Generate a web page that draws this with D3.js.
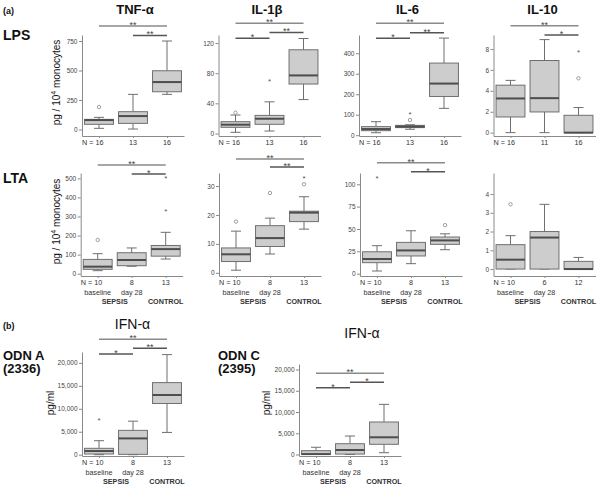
<!DOCTYPE html>
<html><head><meta charset="utf-8">
<script src="https://cdn.jsdelivr.net/npm/d3@7"></script>
<style>body{margin:0;background:#fff}svg{display:block;font-family:"Liberation Sans",Arial,sans-serif}</style>
</head><body>
<script>
// ---------- data: boxes are [whiskerLow, Q1, median, Q3, whiskerHigh] ----------
const groupIdx = [0, 1, 2];
const groupTop = ["", "", ""];
const subLabels = ["baseline", "day 28"];
const sepsisLabel = "SEPSIS", controlLabel = "CONTROL";

const tnfLPS = [[10,44,80,86,103],[4,52,114,151,298],[298,320,402,498,750]];
const tnfLPSOut = [[0,190,"o"]];
const tnfLPSN = [16,13,16];
const tnfLPSTicks = [0,250,500,750];
const tnfLPSSig = [[0,2,"**"],[1,2,"**"]];

const il1LPS = [[1.6,8.2,11.7,15.7,24.5],[3.3,12.2,19.6,24,42],[45,65.6,77,111,126]];
const il1LPSOut = [[0,27.6,"o"],[1,70.5,"*"]];
const il1LPSN = [16,13,16];
const il1LPSTicks = [0,40,80,120];
const il1LPSSig = [[0,2,"**"],[0,1,"*"],[1,2,"**"]];

const il6LPS = [[12,22,30,42,66],[29,37,42,48,51],[131,189,252,352,474]];
const il6LPSOut = [[1,74,"o"],[1,104,"*"]];
const il6LPSN = [16,13,16];
const il6LPSTicks = [0,100,200,300,400];
const il6LPSSig = [[0,2,"**"],[0,1,"*"],[1,2,"**"]];

const il10LPS = [[0,1.5,3.27,4.54,5.0],[0,1.98,3.3,6.9,8.9],[0,0,0,1.66,2.4]];
const il10LPSOut = [[2,5.2,"o"],[2,7.75,"*"]];
const il10LPSN = [16,11,16];
const il10LPSTicks = [0,2,4,6,8];
const il10LPSSig = [[0,2,"**"],[1,2,"*"]];

const tnfLTA = [[16,23,37,75,105],[39,42,72,110,135],[77,92,129,148,217]];
const tnfLTAOut = [[0,177,"o"],[2,332,"*"],[2,505,"*"]];
const tnfLTAN = [10,8,13];
const tnfLTATicks = [0,100,200,300,400,500];
const tnfLTASig = [[0,2,"**"],[1,2,"*"]];

const il1LTA = [[0.9,3.9,6.4,8.6,14.4],[6.5,9.1,12,16.3,18.9],[15.1,17.7,20.8,21.3,26.3]];
const il1LTAOut = [[0,17.7,"o"],[1,27.6,"o"],[2,30.6,"o"],[2,33,"*"]];
const il1LTAN = [10,8,13];
const il1LTATicks = [0,10,20,30];
const il1LTASig = [[0,2,"**"],[1,2,"**"]];

const il6LTA = [[3,12.3,16.4,24.5,31.3],[11.2,19.8,26,35,48],[26.8,32.8,37.2,41,44.6]];
const il6LTAOut = [[0,107,"*"],[2,54.3,"o"]];
const il6LTAN = [10,8,13];
const il6LTATicks = [0,25,50,75,100];
const il6LTASig = [[0,2,"**"],[1,2,"*"]];

const il10LTA = [[0,0,0.5,1.3,1.78],[0,0,1.68,2.0,3.45],[0,0,0,0.41,0.62]];
const il10LTAOut = [[0,3.45,"o"]];
const il10LTAN = [10,6,12];
const il10LTATicks = [0,1,2,3,4];
const il10LTASig = [];

const ifnA = [[0,150,800,1390,3050],[0,80,3550,5300,7300],[4850,11150,13000,15700,21800]];
const ifnAOut = [[0,7700,"*"]];
const ifnAN = [10,8,13];
const ifnTicks = [0,5000,10000,15000,20000];
const ifnASig = [[0,2,"**"],[0,1,"*"],[1,2,"**"]];

const ifnC = [[0,0,100,900,1700],[0,100,1060,2540,4350],[420,2400,4050,7650,11800]];
const ifnCOut = [];
const ifnCN = [10,8,13];
const ifnCSig = [[0,2,"**"],[0,1,"*"],[1,2,"*"]];

// ---------- layout ----------
const W = 600, H = 486;
const svg = d3.select("body").append("svg").attr("width", W).attr("height", H);

const gridCol = "#8a8a8a", boxFill = "#cdcdcd", boxStroke = "#6f6f6f", medCol = "#4d4d4d", textCol = "#333";

function panel(o) {
  const x = d3.scalePoint().domain(groupIdx).range([o.ax, o.ax + 102]).padding(0.5);
  const y = d3.scaleLinear().domain(o.dom).range([o.bottom, o.top]);
  const bw = x.step() * 0.85, cap = 10;
  const g = svg.append("g");
  // axes
  const ya = g.append("g").attr("transform", `translate(${o.ax},0)`)
    .call(d3.axisLeft(y).tickValues(o.ticks).tickSize(3).tickSizeOuter(0).tickPadding(1.5)
      .tickFormat(o.fmt || d3.format("d")));
  const xa = g.append("g").attr("transform", `translate(0,${o.bottom})`)
    .call(d3.axisBottom(x).tickSize(2).tickSizeOuter(0).tickFormat(""));
  [ya, xa].forEach(a => {
    a.selectAll("path,line").attr("stroke", gridCol).attr("stroke-width", 1);
    a.selectAll("text").attr("font-size", 6.5).attr("fill", "#444").attr("font-family", "Liberation Sans, Arial, sans-serif");
  });
  // boxes
  o.data.forEach((b, i) => {
    const cx = x(i);
    g.append("line").attr("x1", cx).attr("x2", cx).attr("y1", y(b[0])).attr("y2", y(b[1])).attr("stroke", boxStroke);
    g.append("line").attr("x1", cx).attr("x2", cx).attr("y1", y(b[3])).attr("y2", y(b[4])).attr("stroke", boxStroke);
    [b[0], b[4]].forEach(v => g.append("line").attr("x1", cx - cap/2).attr("x2", cx + cap/2)
      .attr("y1", y(v)).attr("y2", y(v)).attr("stroke", boxStroke));
    g.append("rect").attr("x", cx - bw/2).attr("width", bw).attr("y", y(b[3]))
      .attr("height", Math.max(0.5, y(b[1]) - y(b[3]))).attr("fill", boxFill).attr("stroke", boxStroke);
    g.append("line").attr("x1", cx - bw/2).attr("x2", cx + bw/2).attr("y1", y(b[2])).attr("y2", y(b[2]))
      .attr("stroke", medCol).attr("stroke-width", 2);
  });
  // outliers
  o.out.forEach(([i, v, t]) => {
    if (t === "o") g.append("circle").attr("cx", x(i)).attr("cy", y(v)).attr("r", 1.7)
      .attr("fill", "#fff").attr("stroke", "#888").attr("stroke-width", 0.8);
    else g.append("text").attr("x", x(i)).attr("y", y(v) + 3.2).attr("text-anchor", "middle")
      .attr("font-size", 8).attr("fill", "#555").text("*");
  });
  // significance bars
  o.sig.forEach(([a, b, s], k) => {
    const yy = o.sigY[k];
    g.append("line").attr("x1", x(a)).attr("x2", x(b)).attr("y1", yy).attr("y2", yy)
      .attr("stroke", k === 0 ? "#8a8a8a" : "#555").attr("stroke-width", 1.4);
    g.append("text").attr("x", (x(a) + x(b)) / 2).attr("y", yy + 1.8).attr("text-anchor", "middle")
      .attr("font-size", 9).attr("fill", "#444").text(s);
  });
  // N labels
  const ny = o.bottom + 9;
  o.n.forEach((n, i) => {
    const t = g.append("text").attr("y", ny).attr("font-size", 7.2).attr("fill", textCol);
    if (i === 0) t.attr("x", x(i) + 4.5).attr("text-anchor", "end").text("N = " + n);
    else t.attr("x", x(i)).attr("text-anchor", "middle").text(n);
  });
  if (o.groups) {
    subLabels.forEach((s, i) => g.append("text").attr("x", x(i)).attr("y", ny + 10).attr("text-anchor", "middle")
      .attr("font-size", 7.2).attr("fill", textCol).text(s));
    g.append("text").attr("x", (x(0) + x(1)) / 2).attr("y", ny + 19).attr("text-anchor", "middle")
      .attr("font-size", 7.2).attr("font-weight", "bold").attr("fill", textCol).text(sepsisLabel);
    g.append("text").attr("x", x(2)).attr("y", ny + 19).attr("text-anchor", "middle")
      .attr("font-size", 7.2).attr("font-weight", "bold").attr("fill", textCol).text(controlLabel);
  }
  return { x, y, g };
}

const TOP = { top: 35, bottom: 136 }, MID = { top: 173, bottom: 276 };
panel({ ax: 82, ...TOP, dom: [-55, 801], ticks: tnfLPSTicks, data: tnfLPS, out: tnfLPSOut, n: tnfLPSN, sig: tnfLPSSig, sigY: [26, 35.5] });
panel({ ax: 218.5, ...TOP, dom: [-3.3, 130.6], ticks: il1LPSTicks, data: il1LPS, out: il1LPSOut, n: il1LPSN, sig: il1LPSSig, sigY: [23.3, 38.3, 32.5] });
panel({ ax: 359, ...TOP, dom: [-3.9, 489], ticks: il6LPSTicks, data: il6LPS, out: il6LPSOut, n: il6LPSN, sig: il6LPSSig, sigY: [23.3, 38.3, 32.7] });
panel({ ax: 493.5, ...TOP, dom: [-0.32, 9.34], ticks: il10LPSTicks, data: il10LPS, out: il10LPSOut, n: il10LPSN, sig: il10LPSSig, sigY: [25.7, 35] });

panel({ ax: 80.7, ...MID, dom: [-12, 528], ticks: tnfLTATicks, data: tnfLTA, out: tnfLTAOut, n: tnfLTAN, sig: tnfLTASig, sigY: [165, 174], groups: true });
panel({ ax: 219, ...MID, dom: [-1.1, 34.5], ticks: il1LTATicks, data: il1LTA, out: il1LTAOut, n: il1LTAN, sig: il1LTASig, sigY: [159, 167], groups: true });
panel({ ax: 360, ...MID, dom: [-2.6, 112.6], ticks: il6LTATicks, data: il6LTA, out: il6LTAOut, n: il6LTAN, sig: il6LTASig, sigY: [162.7, 171.7], groups: true });
panel({ ax: 493.5, ...MID, dom: [-0.37, 5.12], ticks: il10LTATicks, data: il10LTA, out: il10LTAOut, n: il10LTAN, sig: il10LTASig, sigY: [], groups: true });

const fmtK = d3.format(",");
panel({ ax: 82, top: 352, bottom: 456, dom: [-283, 22370], ticks: ifnTicks, fmt: fmtK, data: ifnA, out: ifnAOut, n: ifnAN, sig: ifnASig, sigY: [339.3, 354, 348.3], groups: true });
panel({ ax: 299, top: 364, bottom: 456, dom: [-353, 21300], ticks: ifnTicks, fmt: fmtK, data: ifnC, out: ifnCOut, n: ifnCN, sig: ifnCSig, sigY: [373.3, 387.7, 382.3], groups: true });

// ---------- titles and labels ----------
function txt(x, y, s, size, weight, anchor) {
  return svg.append("text").attr("x", x).attr("y", y).attr("font-size", size).attr("font-weight", weight || "normal")
    .attr("text-anchor", anchor || "start").attr("fill", "#111").text(s);
}
const panelTitles = ["TNF-α", "IL-1β", "IL-6", "IL-10"];
const titleX = [135, 267, 407.5, 542.5];
panelTitles.forEach((t, i) => txt(titleX[i], 14, t, 13, "bold", "middle"));
txt(3, 14, "(a)", 9, "bold");
txt(3, 39.5, "LPS", 14, "bold");
txt(3, 183, "LTA", 14, "bold");
txt(3, 329, "(b)", 9, "bold");
txt(132.5, 329, "IFN-α", 14, "normal", "middle");
txt(362, 338, "IFN-α", 14, "normal", "middle");
txt(3, 359.5, "ODN A", 13, "bold");
txt(3, 373, "(2336)", 13, "bold");
txt(218, 359.5, "ODN C", 13, "bold");
txt(218, 373, "(2395)", 13, "bold");

function ylab(x, y, parts) {
  const t = svg.append("text").attr("transform", `translate(${x},${y}) rotate(-90)`).attr("text-anchor", "middle")
    .attr("font-size", 10).attr("fill", "#111");
  parts.forEach(p => {
    const s = t.append("tspan").text(p[0]);
    if (p[1]) s.attr("font-size", 7).attr("dy", -4); 
    if (p[2]) s.attr("dy", 4);
  });
}
ylab(59.5, 82.5, [["pg / 10"], ["4", true], [" monocytes", false, true]]);
ylab(59.5, 221.5, [["pg / 10"], ["4", true], [" monocytes", false, true]]);
ylab(53.5, 403, [["pg/ml"]]);
ylab(269.5, 403, [["pg/ml"]]);
</script>
</body></html>
